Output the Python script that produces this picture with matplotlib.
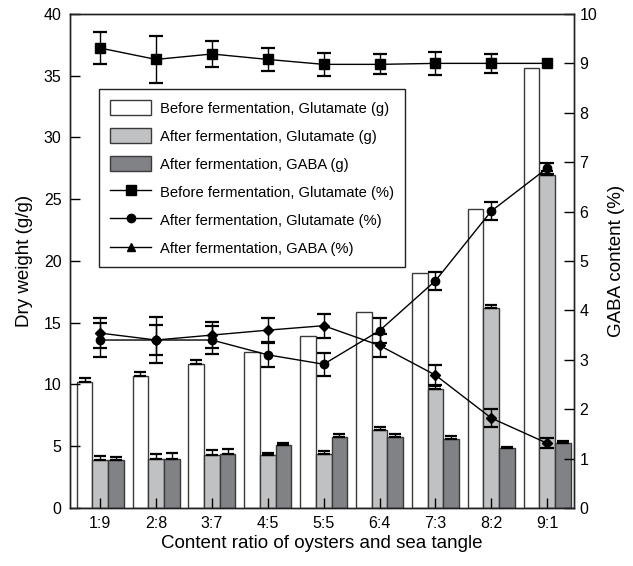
import numpy as np
import matplotlib
matplotlib.use("Agg")
import matplotlib.pyplot as plt
from matplotlib.lines import Line2D
from matplotlib.patches import Patch

plt.rcParams['font.family'] = ['Liberation Sans', 'DejaVu Sans']

# categories
ratios = ['1:9', '2:8', '3:7', '4:5', '5:5', '6:4', '7:3', '8:2', '9:1']

# bars (left axis, g/g)
before_glu_g = [10.2, 10.65, 11.65, 12.6, 13.9, 15.9, 19.0, 24.2, 35.65]
before_glu_g_err = [0.35, 0.4, 0.3, 0.0, 0.0, 0.0, 0.0, 0.0, 0.0]
after_glu_g = [3.85, 4.0, 4.3, 4.3, 4.4, 6.3, 9.6, 16.2, 27.0]
after_glu_g_err = [0.35, 0.37, 0.4, 0.18, 0.25, 0.25, 0.25, 0.2, 0.3]
after_gaba_g = [3.85, 4.0, 4.4, 5.07, 5.75, 5.72, 5.6, 4.88, 5.26]
after_gaba_g_err = [0.3, 0.45, 0.38, 0.22, 0.27, 0.27, 0.22, 0.07, 0.2]

# lines (right axis, %)
before_glu_pct = [9.31, 9.08, 9.19, 9.08, 8.98, 8.98, 9.0, 9.0, 9.0]
before_glu_pct_err = [0.32, 0.47, 0.27, 0.24, 0.23, 0.2, 0.23, 0.19, 0.0]
after_glu_pct = [3.40, 3.40, 3.40, 3.10, 2.91, 3.59, 4.60, 6.01, 6.88]
after_glu_pct_err = [0.34, 0.3, 0.28, 0.24, 0.23, 0.25, 0.18, 0.18, 0.11]
after_gaba_pct = [3.54, 3.40, 3.50, 3.60, 3.69, 3.29, 2.69, 1.82, 1.31]
after_gaba_pct_err = [0.3, 0.47, 0.27, 0.24, 0.24, 0.23, 0.2, 0.19, 0.1]

x = np.arange(len(ratios))
w = 0.28
edge = '#3a3a3a'
c_white = 'white'
c_light = '#c0c1c3'
c_dark = '#808285'

fig = plt.figure(figsize=(6.33, 5.66), dpi=100)
ax = fig.add_axes([0.1106, 0.1025, 0.7962, 0.8728])
ax2 = ax.twinx()


def bar_errs(a, xs, vals, errs):
    # upward error bars only, skip bars without a visible error
    xs = np.asarray(xs); vals = np.asarray(vals); errs = np.asarray(errs)
    m = errs > 0
    a.errorbar(xs[m], vals[m], yerr=[np.zeros(m.sum()), errs[m]], fmt='none',
               ecolor='black', elinewidth=1.0, capsize=4.5, capthick=1.6)


for off, vals, errs, col in [(-w, before_glu_g, before_glu_g_err, c_white),
                             (0, after_glu_g, after_glu_g_err, c_light),
                             (w, after_gaba_g, after_gaba_g_err, c_dark)]:
    ax.bar(x + off, vals, w, color=col, edgecolor=edge, linewidth=1.0)
    bar_errs(ax, x + off, vals, errs)

lkw = dict(color='black', linewidth=1.0)
ekw = dict(fmt='none', ecolor='black', elinewidth=1.0, capsize=5, capthick=1.6)
for vals, errs, mk, ms in [(before_glu_pct, before_glu_pct_err, 's', 7),
                           (after_glu_pct, after_glu_pct_err, 'o', 6),
                           (after_gaba_pct, after_gaba_pct_err, 'D', 5.5)]:
    vals = np.asarray(vals); errs = np.asarray(errs)
    m = errs > 0
    ax2.plot(x, vals, marker=mk, markersize=ms, **lkw)
    ax2.errorbar(x[m], vals[m], yerr=errs[m], **ekw)

ax.set_xlim(-0.54, 8.48)
ax.set_ylim(0, 40)
ax2.set_ylim(0, 10)
ax.set_xticks(x)
ax.set_xticklabels(ratios)
ax.set_yticks(np.arange(0, 41, 5))
ax2.set_yticks(np.arange(0, 11, 1))

ax.tick_params(axis='both', direction='in', length=7, width=1, labelsize=11.5, pad=6)
ax2.tick_params(axis='y', direction='in', length=7, width=1, labelsize=11.5, pad=4)
for a in (ax, ax2):
    for s in a.spines.values():
        s.set_linewidth(1.0)
        s.set_color('#222222')

ax.set_xlabel('Content ratio of oysters and sea tangle', fontsize=13.5, labelpad=3)
ax.set_ylabel('Dry weight (g/g)', fontsize=13.5, labelpad=8)
ax2.set_ylabel('GABA content (%)', fontsize=13.5, labelpad=8)

handles = [
    Patch(facecolor=c_white, edgecolor=edge, linewidth=1.0),
    Patch(facecolor=c_light, edgecolor=edge, linewidth=1.0),
    Patch(facecolor=c_dark, edgecolor=edge, linewidth=1.0),
    Line2D([], [], color='black', linewidth=1.0, marker='s', markersize=7),
    Line2D([], [], color='black', linewidth=1.0, marker='o', markersize=6),
    Line2D([], [], color='black', linewidth=1.0, marker='^', markersize=6),
]
labels = ['Before fermentation, Glutamate (g)',
          'After fermentation, Glutamate (g)',
          'After fermentation, GABA (g)',
          'Before fermentation, Glutamate (%)',
          'After fermentation, Glutamate (%)',
          'After fermentation, GABA (%)']
leg = ax2.legend(handles, labels, loc='upper left', bbox_to_anchor=(0.0575, 0.848),
                 borderaxespad=0, fontsize=10.6, frameon=True, fancybox=False,
                 framealpha=1, edgecolor='#222222', handlelength=2.8,
                 handleheight=1.2, labelspacing=0.85, borderpad=0.75,
                 handletextpad=0.6)
leg.get_frame().set_linewidth(1.0)

fig.savefig('out.png', dpi=100)
